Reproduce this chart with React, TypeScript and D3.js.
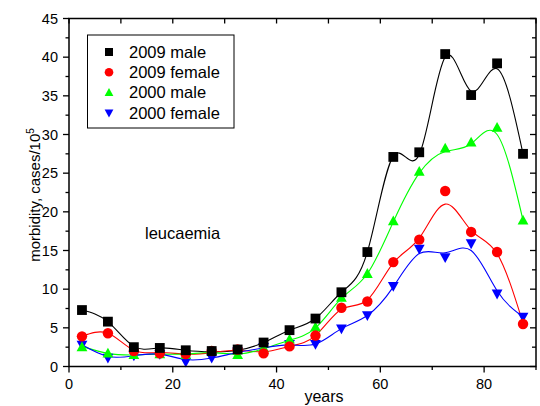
import React from "react";
import * as d3 from "d3";

const ages = [2.5, 7.5, 12.5, 17.5, 22.5, 27.5, 32.5, 37.5, 42.5, 47.5, 52.5, 57.5, 62.5, 67.5, 72.5, 77.5, 82.5, 87.5];

// observed points
const male2009 = [7.3, 5.8, 2.5, 2.4, 2.1, 2.0, 2.2, 3.1, 4.7, 6.2, 9.6, 14.8, 27.1, 27.7, 40.4, 35.1, 39.2, 27.5];
const female2009 = [3.9, 4.3, 2.0, 1.7, 1.6, 2.0, 2.2, 1.7, 2.6, 4.0, 7.6, 8.4, 13.5, 16.4, 22.7, 17.4, 14.8, 5.5];
const male2000 = [2.5, 1.7, 1.5, 1.6, 1.5, 2.0, 1.5, 2.4, 3.5, 5.1, 8.9, 12.0, 18.8, 25.2, 28.2, 29.0, 30.9, 18.9];
const female2000 = [2.8, 1.1, 1.4, 1.6, 0.6, 1.1, 1.9, 2.5, 2.9, 2.9, 4.9, 6.6, 10.4, 15.2, 14.1, 15.9, 9.4, 6.4];

// smoothed curve values
const fitMale2009 = [7.3, 5.8, 2.6, 2.4, 2.1, 1.9, 2.1, 3.1, 4.7, 6.2, 9.6, 14.8, 27.2, 27.4, 40.0, 35.6, 38.5, 27.5];
const fitFemale2009 = [3.9, 4.3, 2.1, 1.8, 1.6, 1.8, 2.1, 1.9, 2.6, 4.0, 7.4, 8.6, 13.4, 16.6, 21.0, 17.6, 14.6, 5.6];
const fitMale2000 = [2.6, 1.7, 1.5, 1.6, 1.6, 1.8, 1.6, 2.3, 3.4, 5.0, 8.8, 12.0, 18.7, 25.0, 27.8, 28.8, 30.0, 18.9];
const fitFemale2000 = [2.8, 1.3, 1.4, 1.6, 0.9, 1.1, 1.8, 2.4, 2.8, 2.9, 4.9, 6.6, 10.3, 14.6, 14.7, 15.0, 9.8, 6.4];

const seriesNames = ["2009 male", "2009 female", "2000 male", "2000 female"];
const seriesColors = ["#000000", "#ff0000", "#00ff00", "#0000ff"];
const seriesSymbols = ["square", "circle", "triangleUp", "triangleDown"];

const xTicks = [0, 20, 40, 60, 80];
const yTicks = [0, 5, 10, 15, 20, 25, 30, 35, 40, 45];

const W = 540, H = 406;
const L = 69, R = 536, T = 18.5, B = 366.5;

function Marker({ kind, x, y, color, s }: { kind: string; x: number; y: number; color: string; s: number }) {
  if (kind === "square") return <rect x={x - s / 2} y={y - s / 2} width={s} height={s} fill={color} />;
  if (kind === "circle") return <circle cx={x} cy={y} r={s / 2 + 0.3} fill={color} />;
  const h = s * 0.95;
  const w = s * 1.1;
  if (kind === "triangleUp")
    return <path d={`M${x},${y - h * 0.6}L${x + w / 2},${y + h * 0.45}L${x - w / 2},${y + h * 0.45}Z`} fill={color} />;
  return <path d={`M${x},${y + h * 0.6}L${x + w / 2},${y - h * 0.45}L${x - w / 2},${y - h * 0.45}Z`} fill={color} />;
}

export default function App() {
  const x = d3.scaleLinear().domain([0, 90]).range([L, R]);
  const y = d3.scaleLinear().domain([0, 45]).range([B, T]);
  const pts = [male2009, female2009, male2000, female2000];
  const fits = [fitMale2009, fitFemale2009, fitMale2000, fitFemale2000];
  const line = d3
    .line<[number, number]>()
    .x((d) => x(d[0]))
    .y((d) => y(d[1]))
    .curve(d3.curveNatural);

  const xMinor = d3.range(0, 91, 10);
  const yMinor = d3.range(0, 45.01, 2.5);
  const font = "Liberation Sans, Arial, sans-serif";

  return (
    <div style={{ position: "absolute", left: 0, top: 0 }}>
      <svg width={W} height={H} style={{ display: "block", fontFamily: font }}>
        <rect width={W} height={H} fill="#fff" />
        {fits.map((f, i) => (
          <path
            key={"c" + i}
            d={line(ages.map((a, j) => [a, f[j]] as [number, number])) || ""}
            fill="none"
            stroke={seriesColors[i]}
            strokeWidth={1.1}
          />
        ))}
        {[3, 2, 1, 0].map((i) =>
          ages.map((a, j) => (
            <Marker key={`m${i}-${j}`} kind={seriesSymbols[i]} x={x(a)} y={y(pts[i][j])} color={seriesColors[i]} s={9.8} />
          ))
        )}
        <rect x={L} y={T} width={R - L} height={B - T} fill="none" stroke="#000" strokeWidth={1.5} />
        {xMinor.map((v) => {
          const major = v % 20 === 0;
          return (
            <g key={"xt" + v}>
              <line x1={x(v)} x2={x(v)} y1={B} y2={B + (major ? 6 : 3.5)} stroke="#000" strokeWidth={1.3} />
              <line x1={x(v)} x2={x(v)} y1={T} y2={T + 5} stroke="#000" strokeWidth={1.3} />
            </g>
          );
        })}
        {xTicks.map((v) => (
          <text key={"xl" + v} x={x(v)} y={B + 22} textAnchor="middle" fontSize={14.5}>
            {v}
          </text>
        ))}
        {yMinor.map((v) => {
          const major = v % 5 === 0;
          return (
            <g key={"yt" + v}>
              <line x1={L} x2={L - (major ? 6 : 3.5)} y1={y(v)} y2={y(v)} stroke="#000" strokeWidth={1.3} />
              <line x1={R} x2={R - (major ? 6 : 4)} y1={y(v)} y2={y(v)} stroke="#000" strokeWidth={1.3} />
            </g>
          );
        })}
        {yTicks.map((v) => (
          <text key={"yl" + v} x={L - 11} y={y(v) + 5} textAnchor="end" fontSize={14.5}>
            {v}
          </text>
        ))}
        <text x={324} y={402} textAnchor="middle" fontSize={16}>
          years
        </text>
        <text transform={`translate(40,${195}) rotate(-90)`} textAnchor="middle" fontSize={15}>
          morbidity, cases/10
          <tspan dy={-6} fontSize={10}>
            5
          </tspan>
        </text>
        <text x={145} y={239} fontSize={16.5}>
          leucaemia
        </text>
        <rect x={87.5} y={35} width={146.5} height={93} fill="#fff" stroke="#000" strokeWidth={1} />
        {seriesNames.map((n, i) => (
          <g key={"lg" + i}>
            <Marker kind={seriesSymbols[i]} x={109} y={52 + i * 20.3} color={seriesColors[i]} s={8} />
            <text x={129} y={52 + i * 20.3 + 5.8} fontSize={16.5}>
              {n}
            </text>
          </g>
        ))}
      </svg>
    </div>
  );
}
